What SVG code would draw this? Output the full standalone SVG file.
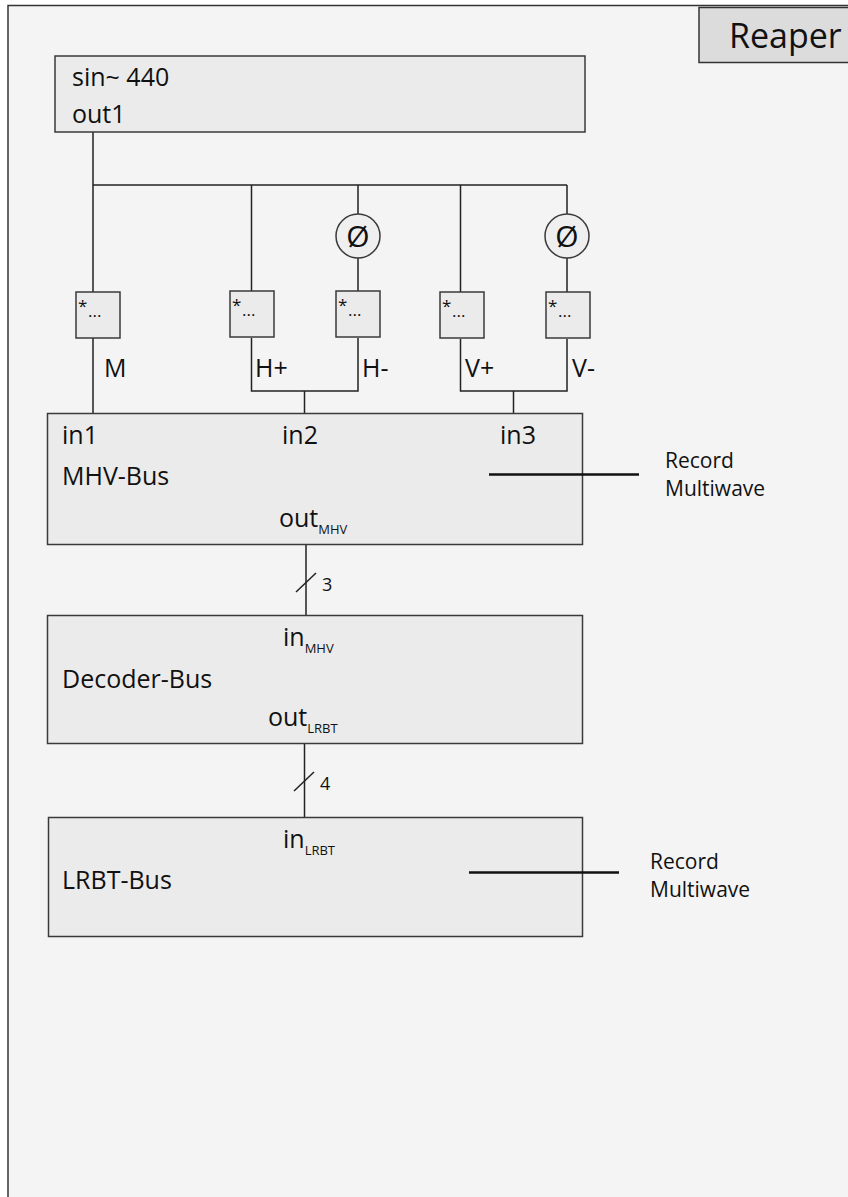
<svg xmlns="http://www.w3.org/2000/svg" width="848" height="1197" viewBox="0 0 848 1197">
<style>
text{font-family:"Open Sans","Noto Sans","Liberation Sans",sans-serif;fill:#111}
.box{fill:#ebebeb;stroke:#3a3a3a;stroke-width:1.5}
.sbox{fill:#ebebeb;stroke:#3a3a3a;stroke-width:1.5}
.circ{fill:#efefef;stroke:#3a3a3a;stroke-width:1.5}
.w{stroke:#222;stroke-width:1.5;fill:none}
.rec{stroke:#111;stroke-width:2.5;fill:none}
.lbl{font-size:25px}
.sub{font-size:13px}
.star{font-size:17px}
.dots{font-size:17px}
.rt{font-size:21px}
</style>
<rect x="0" y="0" width="848" height="1197" fill="#ffffff"/>
<rect id="frame" x="8" y="5.5" width="850" height="1200" fill="#f4f4f4" stroke="#333" stroke-width="1.5"/>
<g id="reaper">
<rect x="699" y="7.5" width="160" height="55" fill="#dcdcdc" stroke="#333" stroke-width="1.5"/>
<text x="729" y="48" font-size="34">Reaper</text>
</g>
<g id="connectors">
<line class="w" x1="93" y1="132" x2="93" y2="413"/>
<line class="w" x1="93" y1="185" x2="567" y2="185"/>
<line class="w" x1="251.5" y1="185" x2="251.5" y2="291"/>
<line class="w" x1="358" y1="185" x2="358" y2="214"/>
<line class="w" x1="358" y1="258" x2="358" y2="291"/>
<line class="w" x1="460.5" y1="185" x2="460.5" y2="292"/>
<line class="w" x1="567" y1="185" x2="567" y2="214"/>
<line class="w" x1="567" y1="258" x2="567" y2="292"/>
<polyline class="w" points="251.5,338 251.5,391 358,391 358,338"/>
<polyline class="w" points="460.5,339 460.5,391 567,391 567,339"/>
<line class="w" x1="304.5" y1="391" x2="304.5" y2="413"/>
<line class="w" x1="513.5" y1="391" x2="513.5" y2="413"/>
<line class="w" x1="306" y1="545" x2="306" y2="615"/>
<line class="w" x1="296" y1="592" x2="316" y2="573"/>
<text x="322" y="591" font-size="18">3</text>
<line class="w" x1="304.5" y1="744" x2="304.5" y2="817"/>
<line class="w" x1="294" y1="791" x2="314" y2="772"/>
<text x="320" y="790" font-size="18">4</text>
</g>
<g id="sin">
<rect class="box" x="55" y="56" width="530" height="76"/>
<text class="lbl" x="72" y="86">sin~ 440</text>
<text class="lbl" x="72" y="123">out1</text>
</g>
<g id="phase1"><circle class="circ" cx="358" cy="236" r="22"/><text x="358" y="247" font-size="30" text-anchor="middle">Ø</text></g>
<g id="phase2"><circle class="circ" cx="567" cy="236" r="22"/><text x="567" y="247" font-size="30" text-anchor="middle">Ø</text></g>
<g id="gainM"><rect class="sbox" x="76" y="292" width="44" height="46"/><text class="star" x="78" y="312">*</text><text class="dots" x="88" y="317">...</text></g>
<g id="gainHp"><rect class="sbox" x="230" y="291" width="44" height="46"/><text class="star" x="232" y="311">*</text><text class="dots" x="242" y="316">...</text></g>
<g id="gainHm"><rect class="sbox" x="336" y="291" width="44" height="46"/><text class="star" x="338" y="311">*</text><text class="dots" x="348" y="316">...</text></g>
<g id="gainVp"><rect class="sbox" x="440" y="292" width="44" height="46"/><text class="star" x="442" y="312">*</text><text class="dots" x="452" y="317">...</text></g>
<g id="gainVm"><rect class="sbox" x="546" y="292" width="44" height="46"/><text class="star" x="548" y="312">*</text><text class="dots" x="558" y="317">...</text></g>
<g id="labels">
<text class="lbl" x="104" y="377">M</text>
<text class="lbl" x="255" y="377">H+</text>
<text class="lbl" x="362" y="377">H-</text>
<text class="lbl" x="465" y="377">V+</text>
<text class="lbl" x="572" y="377">V-</text>
</g>
<g id="mhv">
<rect class="box" x="47.5" y="413.5" width="535" height="131"/>
<text class="lbl" x="62" y="444">in1</text>
<text class="lbl" x="282" y="444">in2</text>
<text class="lbl" x="500" y="444">in3</text>
<text class="lbl" x="62" y="485">MHV-Bus</text>
<text class="lbl" x="279" y="527">out<tspan class="sub" dy="7">MHV</tspan></text>
</g>
<g id="rec1"><line class="rec" x1="489" y1="474.5" x2="639" y2="474.5"/><text class="rt" x="665" y="468">Record</text><text class="rt" x="665" y="496">Multiwave</text></g>
<g id="decoder">
<rect class="box" x="47.5" y="615.5" width="535" height="128"/>
<text class="lbl" x="283" y="646">in<tspan class="sub" dy="7">MHV</tspan></text>
<text class="lbl" x="62" y="688">Decoder-Bus</text>
<text class="lbl" x="268" y="726">out<tspan class="sub" dy="7">LRBT</tspan></text>
</g>
<g id="lrbt">
<rect class="box" x="48.5" y="817.5" width="534" height="119"/>
<text class="lbl" x="283" y="848">in<tspan class="sub" dy="7">LRBT</tspan></text>
<text class="lbl" x="62" y="889">LRBT-Bus</text>
</g>
<g id="rec2"><line class="rec" x1="469" y1="872.5" x2="619" y2="872.5"/><text class="rt" x="650" y="869">Record</text><text class="rt" x="650" y="897">Multiwave</text></g>
</svg>
